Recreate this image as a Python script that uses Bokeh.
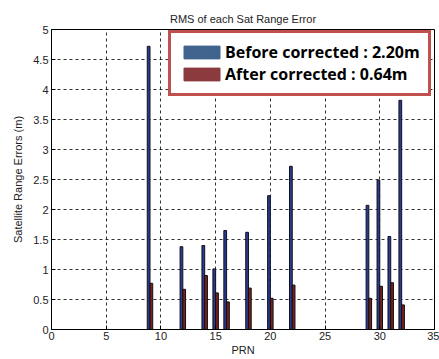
from bokeh.plotting import figure
from bokeh.models import ColumnDataSource, Legend, LegendItem, FixedTicker
from bokeh.transform import dodge
from bokeh.embed import file_html
from bokeh.resources import INLINE

prn = [9, 12, 14, 15, 16, 18, 20, 22, 29, 30, 31, 32]
before = [4.72, 1.38, 1.40, 1.01, 1.65, 1.62, 2.23, 2.72, 2.07, 2.49, 1.55, 3.82]
after = [0.77, 0.67, 0.90, 0.61, 0.46, 0.69, 0.52, 0.74, 0.52, 0.72, 0.78, 0.41]
x_ticks = [0, 5, 10, 15, 20, 25, 30, 35]
y_ticks = [0, 0.5, 1, 1.5, 2, 2.5, 3, 3.5, 4, 4.5, 5]
y_tick_labels = ["0", "0.5", "1", "1.5", "2", "2.5", "3", "3.5", "4", "4.5", "5"]
legend_labels = ["Before corrected : 2.20m", "After corrected : 0.64m"]

FONT = "Liberation Sans"
src = ColumnDataSource(dict(prn=prn, before=before, after=after))

p = figure(width=439, height=359, output_backend="svg", toolbar_location=None,
           x_range=(0, 35), y_range=(0, 5),
           min_border_left=51, min_border_right=5, min_border_top=29, min_border_bottom=30,
           title="RMS of each Sat Range Error")
p.title.align = "center"
p.title.text_font = FONT
p.title.text_font_size = "11px"
p.title.text_font_style = "normal"
p.title.text_color = "#222222"

p.vbar(x=dodge("prn", -0.125, range=p.x_range), top="before", width=0.25, source=src,
       fill_color="#2b3b8c", line_color="#101020", line_width=1)
p.vbar(x=dodge("prn", 0.125, range=p.x_range), top="after", width=0.25, source=src,
       fill_color="#7a2020", line_color="#101010", line_width=1)

# legend swatches (styled like the reference legend box); NaN data draws nothing on the plot
nan_src = ColumnDataSource(dict(x=[float("nan")], top=[float("nan")]))
r1 = p.vbar(x="x", top="top", width=0.25, source=nan_src, fill_color="#41648f", line_color="#41648f")
r2 = p.vbar(x="x", top="top", width=0.25, source=nan_src, fill_color="#8b3a3e", line_color="#8b3a3e")
legend = Legend(items=[LegendItem(label=legend_labels[0], renderers=[r1]),
                       LegendItem(label=legend_labels[1], renderers=[r2])],
                location=(117, 233))
legend.label_text_font = "Open Sans"
legend.label_text_font_size = "16px"
legend.label_text_font_style = "bold"
legend.label_text_color = "#000000"
legend.glyph_width = 45
legend.glyph_height = 16
legend.label_height = 16
legend.spacing = 0
legend.padding = 8
legend.margin = 0
legend.label_standoff = 1
legend.border_line_color = "#c0504d"
legend.border_line_alpha = 1
legend.border_line_width = 3
legend.background_fill_color = "white"
legend.background_fill_alpha = 1
p.add_layout(legend, "center")

xax = p.below[0]
yax = p.left[0]
for ax in (xax, yax):
    ax.major_label_text_font = FONT
    ax.major_label_text_font_size = "11px"
    ax.major_label_text_color = "#222222"
    ax.axis_label_text_font = FONT
    ax.axis_label_text_font_size = "11px"
    ax.axis_label_text_font_style = "normal"
    ax.axis_label_text_color = "#222222"
    ax.major_tick_in = 4
    ax.major_tick_out = 0
    ax.minor_tick_line_color = None
    ax.axis_line_color = "black"
    ax.major_tick_line_color = "black"

xax.ticker = FixedTicker(ticks=x_ticks)
yax.ticker = FixedTicker(ticks=y_ticks)
yax.major_label_overrides = {t: l for t, l in zip(y_ticks, y_tick_labels)}
xax.axis_label = "PRN"
yax.axis_label = "Satellite Range Errors (m)"
xax.major_label_standoff = 2
xax.axis_label_standoff = 1
yax.major_label_standoff = 3
yax.axis_label_standoff = 6

p.xgrid.ticker = FixedTicker(ticks=x_ticks[1:-1])
p.ygrid.ticker = FixedTicker(ticks=y_ticks[1:-1])
for g in (p.xgrid[0], p.ygrid[0]):
    g.grid_line_color = "black"
    g.grid_line_dash = "3 3"
    g.grid_line_alpha = 0.8
    g.grid_line_width = 1

p.outline_line_color = "black"
p.outline_line_alpha = 1
p.outline_line_width = 1
p.background_fill_color = "white"
p.border_fill_color = "white"

open("out.html", "w").write(file_html(p, INLINE))
